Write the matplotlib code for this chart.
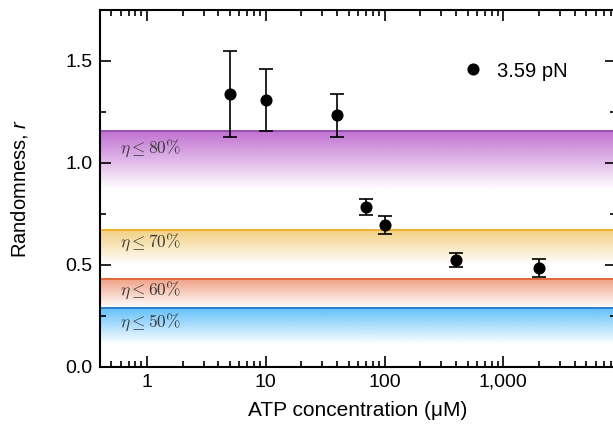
import numpy as np
import matplotlib
matplotlib.use("Agg")
import matplotlib.pyplot as plt
from matplotlib.ticker import FixedLocator, FuncFormatter, MultipleLocator, LogLocator, NullFormatter

plt.rcParams['font.family'] = ['Liberation Sans', 'DejaVu Sans']
plt.rcParams['mathtext.fontset'] = 'custom'
plt.rcParams['mathtext.rm'] = 'Liberation Sans'
plt.rcParams['mathtext.it'] = 'Liberation Sans:italic'

# randomness vs ATP at 3.59 pN
atp = [5, 10, 40, 70, 100, 400, 2000]
r_mean = [1.338, 1.309, 1.235, 0.784, 0.696, 0.524, 0.485]
r_low = [1.127, 1.157, 1.127, 0.745, 0.652, 0.490, 0.441]
r_high = [1.549, 1.461, 1.338, 0.824, 0.740, 0.559, 0.529]
force_label = "3.59 pN"

# efficiency bounds: threshold value, lower end of shading
eta_labels = ["80", "70", "60", "50"]
eta_bound = [1.157, 0.672, 0.431, 0.289]
eta_fade = [0.87, 0.50, 0.29, 0.11]
eta_text_y = [1.050, 0.590, 0.353, 0.196]
eta_line = ["#8e3fa6", "#efae22", "#de5a28", "#1a72c4"]
eta_fill = ["#c070d2", "#f2cf80", "#f0a084", "#62c0fa"]


def band(ax, top, bottom, color):
    rgba = np.zeros((256, 1, 4))
    rgba[..., :3] = matplotlib.colors.to_rgb(color)
    rgba[:, 0, 3] = np.linspace(1.0, 0.0, 256)
    ax.imshow(rgba, extent=[0, 1, bottom, top], transform=ax.get_yaxis_transform(),
              aspect='auto', interpolation='bilinear', zorder=0.5)


fig = plt.figure(figsize=(6.13, 4.25), dpi=100)
ax = fig.add_axes([0.163, 0.1365, 0.842, 0.84])

ax.set_xscale('log')
ax.set_xlim(0.402, 8900)
ax.set_ylim(0, 1.75)

for lab, top, bot, ty, lc, fc in zip(eta_labels, eta_bound, eta_fade, eta_text_y, eta_line, eta_fill):
    band(ax, top, bot, fc)
    ax.axhline(top, color=lc, lw=1.3, zorder=1)
    ax.text(0.039, ty, r"$\eta \leq %s\%%$" % lab, transform=ax.get_yaxis_transform(),
            va='baseline', ha='left', fontsize=12.5, color='#3a3a3a', math_fontfamily='cm', zorder=2)

err = [np.array(r_mean) - np.array(r_low), np.array(r_high) - np.array(r_mean)]
ax.errorbar(atp, r_mean, yerr=err, fmt='none', ecolor='black', elinewidth=1.2,
            capsize=5, capthick=1.2, zorder=3)
ax.plot(atp, r_mean, 'o', color='black', ms=7.7, label=force_label, zorder=4)

ax.legend(loc='center left', bbox_to_anchor=(0.669, 0.829), frameon=False,
          handlelength=1.0, handletextpad=0.65, fontsize=14.5)

ax.xaxis.set_major_locator(FixedLocator([1, 10, 100, 1000]))
ax.xaxis.set_major_formatter(FuncFormatter(lambda v, p: f"{int(v):,}"))
ax.xaxis.set_minor_locator(LogLocator(base=10, subs=np.arange(2, 10), numticks=20))
ax.xaxis.set_minor_formatter(NullFormatter())
ax.yaxis.set_major_locator(MultipleLocator(0.5))
ax.yaxis.set_minor_locator(MultipleLocator(0.25))
ax.yaxis.set_major_formatter(FuncFormatter(lambda v, p: f"{v:.1f}"))

ax.tick_params(which='both', direction='in', top=True, right=True, width=1.2, labelsize=14)
ax.tick_params(which='major', length=8)
ax.tick_params(axis='x', which='major', pad=5)
ax.tick_params(axis='y', which='major', pad=5.5)
ax.tick_params(which='minor', length=4)
for s in ax.spines.values():
    s.set_linewidth(1.5)

ax.set_xlabel("ATP concentration (μM)", fontsize=15, labelpad=7)
ax.set_ylabel("Randomness, $r$", fontsize=14.5, labelpad=25)

fig.savefig("out.png", dpi=100)
